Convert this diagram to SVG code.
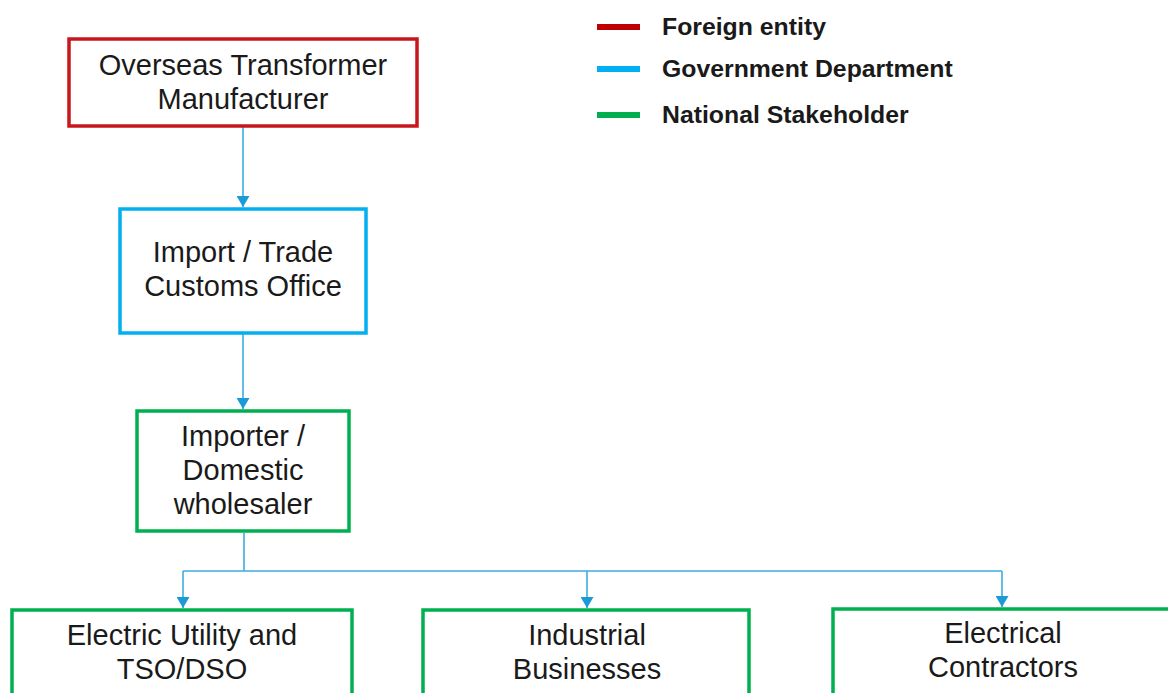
<svg xmlns="http://www.w3.org/2000/svg" width="1168" height="693" viewBox="0 0 1168 693">
<style>
.box{fill:#fff;stroke-width:3.5}
.red{stroke:#C8161D}
.blue{stroke:#00B0F0}
.green{stroke:#00B050}
.t{font-family:"Liberation Sans",Arial,sans-serif;font-size:29px;fill:#1a1a1a;text-anchor:middle}
.lg{font-family:"Liberation Sans",Arial,sans-serif;font-size:24.8px;font-weight:bold;fill:#1a1a1a}
.conn{fill:none;stroke:#3DADE2;stroke-width:1.6}
</style>
<defs>
<marker id="ah" markerWidth="11" markerHeight="13" refX="11" refY="6.5" orient="auto" markerUnits="userSpaceOnUse" viewBox="0 0 11 13">
<path d="M0,0 L11,6.5 L0,13 Z" fill="#1A9BD7"/>
</marker>
</defs>
<rect width="1168" height="693" fill="#fff"/>
<g id="legend">
<line x1="597" y1="27" x2="640" y2="27" stroke="#C00000" stroke-width="6"/>
<text class="lg" x="662" y="35">Foreign entity</text>
<line x1="597" y1="69" x2="640" y2="69" stroke="#00B0F0" stroke-width="6"/>
<text class="lg" x="662" y="77">Government Department</text>
<line x1="597" y1="115" x2="640" y2="115" stroke="#00B050" stroke-width="6"/>
<text class="lg" x="662" y="123">National Stakeholder</text>
</g>
<g id="connectors">
<line class="conn" x1="243" y1="127" x2="243" y2="207" marker-end="url(#ah)"/>
<line class="conn" x1="243" y1="334" x2="243" y2="409" marker-end="url(#ah)"/>
<polyline class="conn" points="244,533 244,571"/>
<polyline class="conn" points="183,571 1002,571"/>
<line class="conn" x1="183" y1="571" x2="183" y2="608" marker-end="url(#ah)"/>
<line class="conn" x1="587" y1="571" x2="587" y2="608" marker-end="url(#ah)"/>
<line class="conn" x1="1002" y1="571" x2="1002" y2="607" marker-end="url(#ah)"/>
</g>
<g id="n1">
<rect class="box red" x="69" y="39" width="348" height="87"/>
<text class="t" x="243" y="75">Overseas Transformer</text>
<text class="t" x="243" y="109">Manufacturer</text>
</g>
<g id="n2">
<rect class="box blue" x="120" y="209" width="246" height="124"/>
<text class="t" x="243" y="262">Import / Trade</text>
<text class="t" x="243" y="296">Customs Office</text>
</g>
<g id="n3">
<rect class="box green" x="137" y="411" width="212" height="120"/>
<text class="t" x="243" y="446">Importer /</text>
<text class="t" x="243" y="480">Domestic</text>
<text class="t" x="243" y="514">wholesaler</text>
</g>
<g id="n4">
<rect class="box green" x="12" y="610" width="340" height="90"/>
<text class="t" x="182" y="645">Electric Utility and</text>
<text class="t" x="182" y="679">TSO/DSO</text>
</g>
<g id="n5">
<rect class="box green" x="423" y="610" width="326" height="90"/>
<text class="t" x="587" y="645">Industrial</text>
<text class="t" x="587" y="679">Businesses</text>
</g>
<g id="n6">
<rect class="box green" x="833" y="609" width="345" height="90"/>
<text class="t" x="1003" y="643">Electrical</text>
<text class="t" x="1003" y="677">Contractors</text>
</g>
</svg>
